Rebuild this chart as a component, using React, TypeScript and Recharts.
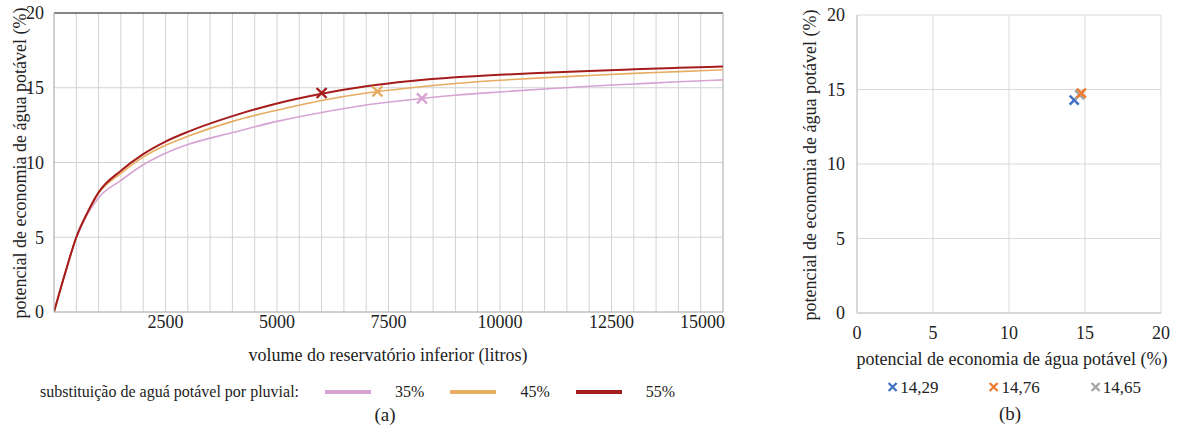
import React from 'react';
import {
  ComposedChart,
  ScatterChart,
  Line,
  Scatter,
  XAxis,
  YAxis,
  CartesianGrid,
  ReferenceLine,
} from 'recharts';

// (a) volume do reservatório inferior (litros) x potencial de economia (%)
const volume = [0, 250, 500, 750, 1000, 1500, 2000, 2500, 3000, 4000, 5000, 6000, 7000, 8000, 9000, 10000, 11000, 12000, 13000, 14000, 15000];
const sub35 = [0, 2.6, 4.95, 6.55, 7.65, 8.8, 9.85, 10.62, 11.2, 12.0, 12.75, 13.35, 13.85, 14.2, 14.5, 14.72, 14.92, 15.1, 15.25, 15.4, 15.53];
const sub45 = [0, 2.6, 5.0, 6.65, 7.95, 9.27, 10.36, 11.15, 11.75, 12.75, 13.5, 14.15, 14.65, 15.0, 15.28, 15.5, 15.67, 15.82, 15.96, 16.08, 16.2];
const sub55 = [0, 2.6, 5.0, 6.65, 8.0, 9.45, 10.56, 11.4, 12.05, 13.1, 13.95, 14.6, 15.1, 15.45, 15.7, 15.87, 16.0, 16.12, 16.23, 16.33, 16.42];

// marcadores (x) sobre as curvas
const markLabels = ['35%', '45%', '55%'];
const markVolume = [8250, 7250, 6000];
const markValue = [14.29, 14.76, 14.65];

const gridTicks = [0, 500, 1000, 1500, 2000, 2500, 3000, 3500, 4000, 4500, 5000, 5500, 6000, 6500, 7000, 7500, 8000, 8500, 9000, 9500, 10000, 10500, 11000, 11500, 12000, 12500, 13000, 13500, 14000, 14500, 15000];
const xLabels = [2500, 5000, 7500, 10000, 12500, 15000];
const yTicks = [0, 5, 10, 15, 20];

// (b)
const pointLabels = ['14,29', '14,76', '14,65'];
const pointValues = [14.29, 14.76, 14.65];

const colors35 = '#d6a3d2';
const colors45 = '#e6ad62';
const colors55 = '#a51c1c';
const pointColors = ['#4472c4', '#ed7d31', '#a5a5a5'];

const curveData = volume.map((v, i) => ({ volume: v, s35: sub35[i], s45: sub45[i], s55: sub55[i] }));
const markColors = [colors35, colors45, colors55];

const FONT = "'Liberation Serif', 'DejaVu Serif', 'Times New Roman', serif";

const makeX = (color: string, s: number, w: number) => (props: any) => {
  const { cx, cy } = props;
  if (cx == null || cy == null) return <g />;
  return (
    <path
      d={`M${cx - s},${cy - s}L${cx + s},${cy + s}M${cx - s},${cy + s}L${cx + s},${cy - s}`}
      stroke={color}
      strokeWidth={w}
      fill="none"
    />
  );
};

const XTick = (props: any) => {
  const { x, y, payload } = props;
  if (!xLabels.includes(payload.value)) return <g />;
  const last = payload.value === xLabels[xLabels.length - 1];
  return (
    <text x={last ? x + 2 : x} y={y + 8} textAnchor={last ? 'end' : 'middle'} fontSize={18} fill="#222" fontFamily={FONT}>
      {payload.value}
    </text>
  );
};

const BTick = (props: any) => {
  const { x, y, payload } = props;
  return (
    <text x={x} y={y + 18} textAnchor="middle" fontSize={18} fill="#222" fontFamily={FONT}>
      {payload.value}
    </text>
  );
};

const text = (style: React.CSSProperties): React.CSSProperties => ({
  position: 'absolute',
  whiteSpace: 'nowrap',
  lineHeight: 1,
  color: '#222',
  transform: 'translate(-50%, -50%)',
  ...style,
});

export default function App() {
  return (
    <div
      style={{
        position: 'absolute',
        left: 0,
        top: 0,
        width: 1184,
        height: 434,
        background: '#fff',
        fontFamily: FONT,
        overflow: 'hidden',
      }}
    >
      <div style={{ position: 'absolute', left: 0, top: 0 }}>
        <ComposedChart width={740} height={434} data={curveData} margin={{ top: 13, right: 17, bottom: 92, left: 14 }}>
          <CartesianGrid stroke="#d2d2d2" strokeWidth={1} />
          <XAxis
            dataKey="volume"
            type="number"
            domain={[0, 15000]}
            ticks={gridTicks}
            interval={0}
            tick={<XTick />}
            tickLine={false}
            axisLine={{ stroke: '#b5b5b5' }}
            height={30}
            allowDataOverflow
          />
          <YAxis
            type="number"
            domain={[0, 20]}
            ticks={yTicks}
            width={40}
            tickLine={false}
            axisLine={{ stroke: '#b5b5b5' }}
            tick={{ fontSize: 18, fill: '#222', fontFamily: FONT }}
            tickMargin={4}
          />
          <ReferenceLine y={20} stroke="#222" strokeWidth={1.2} />
          <ReferenceLine x={15000} stroke="#bdbdbd" />
          <Line type="monotone" dataKey="s35" stroke={colors35} strokeWidth={1.6} dot={false} isAnimationActive={false} />
          <Line type="monotone" dataKey="s45" stroke={colors45} strokeWidth={1.6} dot={false} isAnimationActive={false} />
          <Line type="monotone" dataKey="s55" stroke={colors55} strokeWidth={2} dot={false} isAnimationActive={false} />
          {markLabels.map((m, i) => (
            <Scatter
              key={m}
              data={[{ volume: markVolume[i], mark: markValue[i] }]}
              dataKey="mark"
              shape={makeX(markColors[i], 5, 2.4)}
              isAnimationActive={false}
            />
          ))}
        </ComposedChart>
      </div>

      <div style={text({ left: 20, top: 163, fontSize: 18, transform: 'translate(-50%, -50%) rotate(-90deg)' })}>
        potencial de economia de água potável (%)
      </div>
      <div style={text({ left: 388, top: 355, fontSize: 18 })}>volume do reservatório inferior (litros)</div>

      <div style={text({ left: 40, top: 392, fontSize: 16, transform: 'translate(0, -50%)', display: 'flex', alignItems: 'center' })}>
        <span>substituição de aguá potável por pluvial:</span>
        {markLabels.map((m, i) => (
          <span key={m} style={{ display: 'flex', alignItems: 'center' }}>
            <span style={{ display: 'inline-block', width: 46, height: 4, background: markColors[i], marginLeft: 26, marginRight: 24 }} />
            <span>{m}</span>
          </span>
        ))}
      </div>
      <div style={text({ left: 385, top: 414, fontSize: 19 })}>(a)</div>

      <div style={{ position: 'absolute', left: 780, top: 0 }}>
        <ScatterChart width={404} height={434} margin={{ top: 15, right: 23, bottom: 96, left: 37 }}>
          <CartesianGrid stroke="#d9d9d9" />
          <XAxis
            dataKey="x"
            type="number"
            domain={[0, 20]}
            ticks={yTicks}
            tickLine={false}
            axisLine={{ stroke: '#c4c4c4' }}
            tick={<BTick />}
            height={25}
          />
          <YAxis
            dataKey="y"
            type="number"
            domain={[0, 20]}
            ticks={yTicks}
            width={40}
            tickLine={false}
            axisLine={{ stroke: '#c4c4c4' }}
            tick={{ fontSize: 18, fill: '#222', fontFamily: FONT }}
            tickMargin={6}
          />
          {[0, 2, 1].map((i) => (
            <Scatter
              key={pointLabels[i]}
              data={[{ x: pointValues[i], y: pointValues[i] }]}
              shape={makeX(pointColors[i], 4.5, 2.6)}
              isAnimationActive={false}
            />
          ))}
        </ScatterChart>
      </div>

      <div style={text({ left: 810, top: 165, fontSize: 18, transform: 'translate(-50%, -50%) rotate(-90deg)' })}>
        potencial de economia de água potável (%)
      </div>
      <div style={text({ left: 1012, top: 359, fontSize: 18 })}>potencial de economia de água potável (%)</div>
      <div style={text({ left: 1014, top: 387, fontSize: 17, display: 'flex', alignItems: 'center' })}>
        {pointLabels.map((p, i) => (
          <span key={p} style={{ display: 'flex', alignItems: 'center', marginLeft: i ? 50 : 0 }}>
            <svg width={11} height={11} style={{ marginRight: 2 }}>
              <path d="M1.5,1.5L9.5,9.5M1.5,9.5L9.5,1.5" stroke={pointColors[i]} strokeWidth={2.4} />
            </svg>
            <span>{p}</span>
          </span>
        ))}
      </div>
      <div style={text({ left: 1010, top: 413, fontSize: 19 })}>(b)</div>
    </div>
  );
}
